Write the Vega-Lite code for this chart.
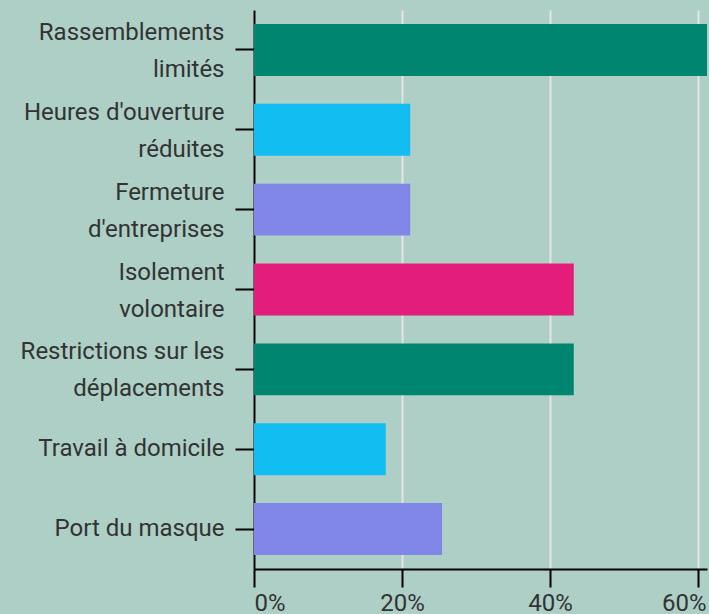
{
  "$schema": "https://vega.github.io/schema/vega-lite/v6.json",
  "width": 453,
  "height": 559,
  "autosize": "none",
  "padding": {"left": 254, "top": 10, "right": 2, "bottom": 45},
  "background": "#aecfc6",
  "config": {"view": {"stroke": null}, "font": "Roboto"},
  "data": {"values": [
    {"mesure": "Rassemblements|limités", "pct": 61.2},
    {"mesure": "Heures d'ouverture|réduites", "pct": 21.1},
    {"mesure": "Fermeture|d'entreprises", "pct": 21.1},
    {"mesure": "Isolement|volontaire", "pct": 43.2},
    {"mesure": "Restrictions sur les|déplacements", "pct": 43.2},
    {"mesure": "Travail à domicile", "pct": 17.8},
    {"mesure": "Port du masque", "pct": 25.4}
  ]},
  "mark": {"type": "bar", "clip": true},
  "encoding": {
    "y": {
      "field": "mesure", "type": "nominal", "sort": null,
      "scale": {"paddingInner": 0.35, "paddingOuter": 0.175},
      "axis": {
        "title": null, "domainColor": "#000000", "domainWidth": 2,
        "tickColor": "#000000", "tickWidth": 2, "tickSize": 19,
        "labelFontSize": 24, "labelColor": "#333333", "labelPadding": 11,
        "labelLineHeight": 37, "labelLimit": 260,
        "labelOffset": {"condition": {"test": "indexof(datum.value, '|') >= 0", "value": -17}, "value": 0},
        "labelExpr": "split(datum.label, '|')", "grid": false
      }
    },
    "x": {
      "field": "pct", "type": "quantitative",
      "scale": {"domain": [0, 61.2], "nice": false, "zero": true},
      "axis": {
        "title": null, "values": [0, 20, 40, 60],
        "labelExpr": "datum.value + '%'",
        "domainColor": "#000000", "domainWidth": 2,
        "tickColor": "#000000", "tickWidth": 2, "tickSize": 18,
        "labelFontSize": 24, "labelColor": "#333333", "labelPadding": 4,
        "labelFlush": false,
        "labelAlign": {"condition": [
          {"test": "datum.value == 0", "value": "left"},
          {"test": "datum.value == 60", "value": "right"}
        ], "value": "center"},
        "labelOffset": {"condition": [
          {"test": "datum.value == 60", "value": 8}
        ], "value": 0},
        "grid": true, "gridColor": "#e4e4e4", "gridWidth": 2
      }
    },
    "color": {
      "field": "mesure", "type": "nominal", "sort": null, "legend": null,
      "scale": {"range": ["#008570", "#12bdf2", "#8087e8", "#e31e7a", "#008570", "#12bdf2", "#8087e8"]}
    }
  }
}
